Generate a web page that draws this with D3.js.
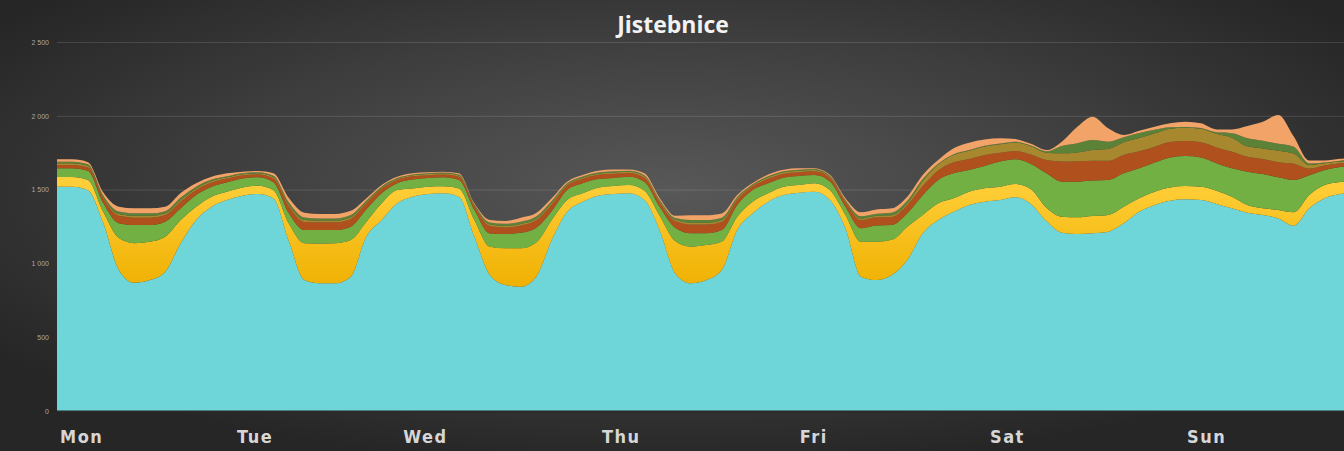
<!DOCTYPE html>
<html>
<head>
<meta charset="utf-8">
<script src="https://cdn.jsdelivr.net/npm/d3@7"></script>
<style>
  html, body { margin: 0; padding: 0; background: #2b2b2b; }
  svg { display: block; }
</style>
</head>
<body>
<div id="chart"></div>
<script>
// hours from the start of the week, 2 hour steps
const hours = [0,2,4,6,8,10,12,14,16,18,20,22,24,26,28,30,32,34,36,38,40,42,44,46,
  48,50,52,54,56,58,60,62,64,66,68,70,72,74,76,78,80,82,84,86,88,90,92,94,
  96,98,100,102,104,106,108,110,112,114,116,118,120,122,124,126,128,130,132,134,136,138,140,
  142,144,146,148,150,152,154,156,158,160,162,164,166,168];

// series values (stacked, bottom to top)
const cyanVals = [1520,1520,1495,1272,955,869,887,944,1136,1294,1384,1430,
  1459,1470,1440,1150,887,865,865,910,1180,1294,1407,1452,
  1470,1475,1452,1181,921,854,842,910,1158,1350,1418,1459,
  1470,1475,1430,1220,930,865,887,955,1226,1339,1418,1463,
  1479,1486,1430,1238,910,887,921,1023,1204,1294,1350,1396,
  1418,1430,1448,1403,1287,1208,1199,1204,1215,1272,1350,
  1396,1425,1434,1430,1403,1373,1343,1328,1305,1255,1373,1441,1470,1480];
const yellowVals = [65,65,70,76,217,268,260,237,158,90,68,55,
  55,56,55,120,249,268,271,248,100,113,90,56,
  50,48,55,113,192,248,260,232,136,80,57,54,
  54,56,62,100,220,248,237,192,90,79,57,57,
  52,57,65,90,237,260,239,226,124,113,91,90,
  91,90,90,99,90,108,113,117,113,112,91,
  90,90,90,90,90,79,53,45,57,91,91,90,82,80];
const greenVals = [60,60,62,59,100,123,113,102,79,79,68,65,
  62,58,55,70,90,93,90,91,85,68,46,60,
  58,60,58,68,90,97,105,100,60,67,68,59,
  55,56,60,60,90,91,80,79,80,79,68,60,
  61,56,60,56,91,110,100,90,134,158,169,147,
  151,170,167,171,233,238,242,240,237,226,203,
  197,203,203,198,185,192,225,232,221,219,133,102,101,100];
const rustVals = [22,22,22,30,50,50,50,45,45,35,28,25,
  20,18,25,45,55,52,52,52,40,30,22,22,
  20,20,22,25,50,45,50,50,45,30,30,28,
  28,25,28,30,45,60,60,55,35,25,30,28,
  26,25,25,30,55,55,55,55,62,65,75,75,
  75,60,57,65,90,136,138,135,130,125,115,
  108,105,102,102,108,113,102,102,103,110,45,30,25,25];
const oliveVals = [12,12,12,10,12,12,12,11,12,10,10,8,
  8,8,10,12,13,12,12,12,10,8,7,7,
  7,7,8,8,10,10,10,10,12,8,8,8,
  9,9,10,10,10,12,12,12,10,8,9,9,
  9,8,8,8,10,10,12,14,35,40,50,55,
  57,57,57,55,50,56,60,72,80,85,90,
  90,90,90,92,92,95,70,72,78,70,25,15,12,12];
const dkgreenVals = [10,10,10,12,17,17,17,15,16,12,10,8,
  7,7,8,15,17,15,15,15,10,8,6,6,
  6,6,7,6,14,14,15,15,12,8,8,8,
  8,7,8,8,12,18,18,17,9,6,8,8,
  8,7,6,8,16,15,17,16,12,5,5,5,
  5,5,5,5,10,50,62,68,50,35,35,
  25,10,5,5,10,30,55,52,46,45,10,6,6,6];
const peachVals = [16,16,15,21,33,34,34,30,31,23,19,19,
  10,9,17,31,33,30,30,28,15,10,9,7,
  6,5,8,6,17,20,28,25,18,11,10,12,
  12,9,12,12,15,32,32,28,13,8,12,10,
  9,6,6,11,27,28,29,28,28,25,40,50,
  43,36,18,12,8,29,112,158,90,15,15,
  20,26,36,32,20,26,83,129,195,69,20,13,13,12];

const dayLabels = ["Mon", "Tue", "Wed", "Thu", "Fri", "Sat", "Sun"];
const dayTickHours = [0.4, 23.3, 44.8, 70.5, 96.1, 120.7, 146.2];
const yTicks = [0, 500, 1000, 1500, 2000, 2500];

const keys = ["cyan", "yellow", "green", "rust", "olive", "dkgreen", "peach"];
const colors = {
  cyan: "#6ed5d9",
  yellow: "url(#yellowGrad)",
  green: "#72b043",
  rust: "#b0501c",
  olive: "#a8882e",
  dkgreen: "#5c8238",
  peach: "#f2a468"
};

// table for d3.stack
const rows = hours.map((h, i) => ({
  hour: h,
  cyan: cyanVals[i],
  yellow: yellowVals[i],
  green: greenVals[i],
  rust: rustVals[i],
  olive: oliveVals[i],
  dkgreen: dkgreenVals[i],
  peach: peachVals[i]
}));

const W = 1344, H = 451;
const margin = {top: 42, left: 57, bottom: 40};

const svg = d3.select("#chart")
  .append("svg")
  .attr("width", W)
  .attr("height", H);

const defs = svg.append("defs");

// background: dark radial glow
const bg = defs.append("radialGradient")
  .attr("id", "bgGrad")
  .attr("cx", "50%").attr("cy", "42%").attr("r", "62%");
bg.append("stop").attr("offset", "0%").attr("stop-color", "#585858");
bg.append("stop").attr("offset", "55%").attr("stop-color", "#3e3e3e");
bg.append("stop").attr("offset", "100%").attr("stop-color", "#262626");

const yg = defs.append("linearGradient")
  .attr("id", "yellowGrad")
  .attr("gradientUnits", "userSpaceOnUse")
  .attr("x1", 0).attr("y1", 180).attr("x2", 0).attr("y2", 290);
yg.append("stop").attr("offset", "0%").attr("stop-color", "#ffcf3a");
yg.append("stop").attr("offset", "100%").attr("stop-color", "#efb000");

defs.append("clipPath").attr("id", "plotClip")
  .append("rect")
  .attr("x", margin.left).attr("y", 0)
  .attr("width", W - margin.left).attr("height", H);

svg.append("rect")
  .attr("width", W).attr("height", H)
  .attr("fill", "url(#bgGrad)");

// scales
const x = d3.scaleLinear()
  .domain([0, 168])
  .range([margin.left, 1355.6]);

const y = d3.scaleLinear()
  .domain([0, 2500])
  .range([H - margin.bottom, margin.top]);

// grid lines
svg.append("g")
  .attr("transform", "translate(" + margin.left + ",0)")
  .call(d3.axisLeft(y).tickValues(yTicks.slice(1)).tickSize(-(W - margin.left)).tickFormat(""))
  .call(g => g.select(".domain").remove())
  .call(g => g.selectAll("line").attr("stroke", "rgba(255,255,255,0.13)").attr("stroke-width", 1));

// y tick labels ("2 500")
const fmt = d3.format(",");
svg.append("g")
  .attr("transform", "translate(49,0)")
  .call(d3.axisLeft(y).tickValues(yTicks).tickSize(0).tickPadding(0)
    .tickFormat(d => fmt(d).replace(/,/g, " ")))
  .call(g => g.select(".domain").remove())
  .call(g => g.selectAll("text")
    .attr("fill", "#a8a8a8")
    .style("font-family", "'Liberation Sans', Arial, sans-serif")
    .style("font-size", "7px"));

// stacked areas
const series = d3.stack().keys(keys)(rows);

const area = d3.area()
  .x(d => x(d.data.hour))
  .y0(d => y(d[0]))
  .y1(d => y(d[1]))
  .curve(d3.curveMonotoneX);

svg.append("g")
  .attr("clip-path", "url(#plotClip)")
  .selectAll("path")
  .data(series)
  .enter().append("path")
  .attr("d", area)
  .attr("fill", d => colors[d.key]);

// base line
svg.append("line")
  .attr("x1", margin.left).attr("x2", W)
  .attr("y1", y(0) + 0.5).attr("y2", y(0) + 0.5)
  .attr("stroke", "#2a2a2a").attr("stroke-width", 2);

// day labels
svg.append("g").selectAll("text")
  .data(dayLabels)
  .enter().append("text")
  .attr("x", (d, i) => x(dayTickHours[i]))
  .attr("y", 443)
  .attr("fill", "#d6d6d6")
  .style("font-family", "'DejaVu Sans Condensed', 'DejaVu Sans', sans-serif")
  .style("font-stretch", "condensed")
  .style("font-weight", "bold")
  .style("font-size", "18px")
  .style("letter-spacing", "1.5px")
  .text(d => d);

// title
svg.append("text")
  .attr("x", 673)
  .attr("y", 33)
  .attr("text-anchor", "middle")
  .attr("fill", "#f2f2f2")
  .style("font-family", "'Open Sans', sans-serif")
  .style("font-weight", "bold")
  .style("font-size", "23px")
  .text("Jistebnice");
</script>
</body>
</html>
